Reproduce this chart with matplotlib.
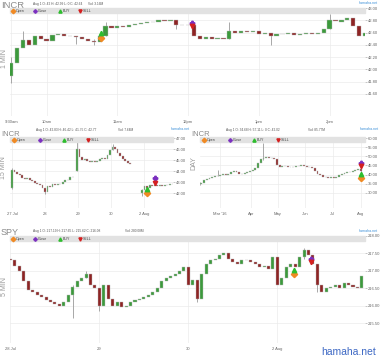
import numpy as np
import matplotlib.pyplot as plt
from matplotlib.lines import Line2D
from matplotlib.patches import Rectangle

plt.rcParams['font.family'] = ['Liberation Sans', 'DejaVu Sans']

# ---------------- data ----------------
# INCR 1 MIN, bars every 5 minutes from 9:30
incr1_open0 = 41.90
incr1_close = [42.10, 42.35, 42.48, 42.40, 42.55, 42.50, 42.47, 42.56, 42.58, 42.54,
               42.55, 42.52, 42.50, 42.47, 42.45, 42.55, 42.70, 42.68, 42.70, 42.69,
               42.73, 42.74, 42.76, 42.78, 42.77, 42.80, 42.79, 42.80, 42.72, 42.73,
               42.72, 42.55, 42.50, 42.52, 42.49, 42.51, 42.50, 42.62, 42.60, 42.62,
               42.61, 42.62, 42.58, 42.60, 42.55, 42.58, 42.57, 42.59, 42.56, 42.58,
               42.59, 42.57, 42.60, 42.66, 42.80, 42.78, 42.80, 42.83, 42.70, 42.55,
               42.60]
incr1_spikes = [(0, 42.20, 41.78), (10, 42.62, 42.40), (55, 42.55, 42.42), (70, 42.50, 42.40),
                (80, 42.78, 42.55), (140, 42.80, 42.65), (185, 42.78, 42.50), (220, 42.60, 42.40),
                (270, 42.90, 42.66)]
incr1_marks_x = [76, 76, 153, 153]
incr1_marks_y = [42.51, 42.59, 42.76, 42.71]  # open, buy, close, sell

# INCR 15 MIN, three runs of bars (day units)
incr15_starts = [0.0, 1.97, 3.94]
incr15_open0 = [42.50, 44.00, 42.00]
incr15_close = [
    [44.10, 43.90, 43.70, 43.60, 43.40, 43.30, 43.35, 43.20, 43.10, 42.95, 42.85, 42.70, 42.50,
     42.10, 42.60, 42.55, 42.80, 42.75, 42.85, 42.80, 43.00, 43.15, 43.20, 43.45, 43.50],
    [46.00, 45.30, 45.00, 45.10, 44.90, 44.80, 44.90, 44.80, 44.90, 45.10, 45.20, 45.10, 45.50,
     45.90, 46.20, 46.00, 45.60, 45.40, 45.10, 44.90, 44.70, 44.60],
    [42.30, 42.60, 42.50, 42.70, 42.60, 42.75, 42.60, 42.70, 42.65, 42.75, 42.70, 42.80, 42.85],
]
incr15_spikes = [(0.0, 44.30, 42.40), (1.0, 42.30, 41.95), (1.97, 46.60, 44.00),
                 (3.047, 46.42, 45.90), (3.94, 42.40, 41.75)]
incr15_marks_x = [4.09, 4.09, 4.33, 4.33]
incr15_marks_y = [42.00, 42.40, 43.35, 42.95]

# INCR DAY, one bar every two trading days
incrd_open0 = 34.80
incrd_close = [35.5, 37.0, 37.8, 38.2, 38.8, 39.5, 39.2, 40.0, 40.5, 39.8,
               40.6, 41.6, 42.0, 41.2, 40.6, 40.5, 40.8, 41.2, 41.8, 42.3,
               43.8, 46.5, 48.5, 49.0, 49.6, 49.2, 49.0, 48.5, 45.0, 44.2,
               44.8, 44.5, 44.4, 44.0, 44.3, 44.6, 44.8, 45.0, 44.6, 44.0,
               44.2, 43.8, 42.0, 40.5, 39.6, 38.6, 38.8, 38.2, 38.6, 38.4,
               38.9, 39.8, 40.3, 40.8, 41.2, 41.6, 42.0, 42.4, 43.2, 42.0]
incrd_spikes = [(0, 35.8, 34.2), (13, 42.5, 39.0), (47, 57.11, 48.0), (119, 44.0, 41.5)]
incrd_marks_x = [119.3, 119.3, 119.3, 119.3]
incrd_marks_y = [38.2, 40.4, 46.4, 44.7]

# SPY 5 MIN, 20 bars per day
spy_open0 = 217.35
spy_close = [217.30, 217.15, 217.00, 216.70, 216.45, 216.40, 216.30, 216.25, 216.15, 216.10,
             216.05, 216.00, 216.10, 216.30, 216.55, 216.70, 216.80, 216.90, 216.60, 216.50,
             216.00, 216.60, 216.20, 216.00, 216.10, 215.95, 216.00, 216.10, 216.15, 216.20,
             216.25, 216.30, 216.40, 216.50, 216.70, 216.80, 216.85, 216.90, 217.00, 217.10,
             216.60, 216.75, 216.20, 216.90, 217.20, 217.30, 217.35, 217.45, 217.50, 217.35,
             217.25, 217.20, 217.30, 217.30, 217.25, 217.20, 217.10, 217.15, 217.05, 217.40,
             216.60, 216.80, 217.10, 217.20, 217.10, 217.40, 217.60, 217.45, 217.20, 216.60,
             216.40, 216.50, 216.55, 216.60, 216.50, 216.65, 216.60, 216.55, 216.50, 216.85]
spy_spikes = [(0.70, 216.60, 215.64), (0.85, 217.00, 216.80), (1.00, 216.50, 215.85),
              (2.10, 216.75, 216.10), (3.30, 217.65, 217.35), (3.45, 217.20, 216.40)]
spy_marks_x = [3.19, 3.19, 3.38, 3.38]
spy_marks_y = [216.90, 217.03, 217.35, 217.25]

legend_labels = ['Open', 'Close', 'BUY', 'SELL']
mark_styles = [('D', '#f08a24'), ('P', '#7b2fbf'), ('^', '#2ebd2e'), ('v', '#d42020')]
mark_order = [0, 2, 1, 3]  # open, buy, close, sell

UP, DOWN = '#3c9a3c', '#8e2424'
W, H = 380, 358

fig = plt.figure(figsize=(W / 100, H / 100), dpi=100)


def fx(x):
    return x / W


def fy(y):
    return 1 - y / H


def panel(x0, y0, x1, y1):
    return fig.add_axes([fx(x0), fy(y1), (x1 - x0) / W, (y1 - y0) / H])


def candles(ax, xs, closes, open0, width):
    closes = np.array(closes)
    opens = np.concatenate([[open0], closes[:-1]])
    h = closes - opens
    h = np.where(np.abs(h) < 1e-9, 0.004 * (ax.get_ylim()[1] - ax.get_ylim()[0]), h)
    cols = np.where(closes >= opens, UP, DOWN)
    ax.bar(xs, h, bottom=opens, width=width, color=cols, edgecolor='#b8b8b8',
           linewidth=0.3, zorder=3)


def spikes(ax, sp):
    for x, hi, lo in sp:
        ax.vlines(x, lo, hi, color='#9a9a9a', linewidth=0.6, zorder=2)


def marks(ax, xs, ys):
    for k, x, y in zip(mark_order, xs, ys):
        m, c = mark_styles[k]
        ax.plot(x, y, marker=m, color=c, markersize=3.2, linestyle='none', zorder=6)


def style(ax, yticks, xticks, xlabels, yfmt='{:.2f}'):
    for s in ax.spines.values():
        s.set_visible(False)
    ax.set_facecolor('none')
    ax.yaxis.tick_right()
    ax.set_yticks(yticks)
    ax.set_yticklabels([yfmt.format(v) for v in yticks])
    ax.set_xticks(xticks)
    ax.set_xticklabels(xlabels)
    ax.tick_params(axis='y', labelsize=3.0, length=1.2, width=0.4, color='#999999',
                   labelcolor='#666666', pad=0.8)
    ax.tick_params(axis='x', labelsize=3.0, length=0, labelcolor='#666666', pad=3)
    ax.grid(True, color='#ebebeb', linewidth=0.5)
    ax.set_axisbelow(True)


def header(title, tsize, tx, ty, info, ix, vol, vx, iy, x0, x1, by, lx, hx, hy, side, sx, sy):
    fig.text(fx(tx), fy(ty), title, fontsize=tsize, color='#8a8a8a', va='baseline')
    fig.text(fx(ix), fy(iy), info, fontsize=2.3, color='#555555', va='center')
    fig.text(fx(vx), fy(iy), vol, fontsize=2.3, color='#555555', va='center')
    fig.text(fx(hx), fy(hy), 'hamaha.net', fontsize=2.6, color='#3a8fd8', va='center', ha='right')
    fig.text(fx(sx), fy(sy), side, fontsize=5, color='#9a9a9a', va='center', ha='center',
             rotation=90)
    fig.add_artist(Rectangle((fx(x0), fy(by + 5)), (x1 - x0) / W, 5 / H,
                             transform=fig.transFigure, color='#e2e2e2', zorder=5))
    for x, lab, (m, c) in zip(lx, legend_labels, mark_styles):
        fig.add_artist(Line2D([fx(x)], [fy(by + 2.5)], marker=m, color=c, markersize=2.3,
                              linestyle='none', transform=fig.transFigure, zorder=6))
        fig.text(fx(x + 3), fy(by + 2.6), lab, fontsize=2.6, color='#444444', va='center',
                 zorder=6)


# ---- INCR 1 MIN ----
ax1 = panel(10, 8, 365, 116)
ax1.set_xlim(-1, 300)
ax1.set_ylim(41.24, 43.0)
t1 = np.arange(len(incr1_close)) * 5
candles(ax1, t1, incr1_close, incr1_open0, 3.6)
spikes(ax1, incr1_spikes)
marks(ax1, incr1_marks_x, incr1_marks_y)
style(ax1, [41.6, 41.8, 42.0, 42.2, 42.4, 42.6, 42.8, 43.0], [0, 30, 90, 150, 210, 270],
      ['9:30am', '10am', '11am', '12pm', '1pm', '2pm'])
header('INCR', 6.8, 1, 7.6, 'Aug 1 O: 42 H: 42.99 L: 0 C: 42.64', 33, 'Vol: 3.16M', 88, 4,
       10, 365, 8, [13, 35, 60, 80], 378, 3, '1 MIN', 4, 58)

# ---- INCR 15 MIN ----
ax2 = panel(10, 138, 173, 208)
ax2.set_xlim(-0.06, 4.88)
ax2.set_ylim(40.64, 47.0)
for start, op, cl in zip(incr15_starts, incr15_open0, incr15_close):
    candles(ax2, start + np.arange(len(cl)) / 13, cl, op, 0.055)
spikes(ax2, incr15_spikes)
marks(ax2, incr15_marks_x, incr15_marks_y)
style(ax2, [42, 43, 44, 45, 46, 47], [0, 1, 2, 3, 4], ['27 Jul', '28', '29', '30', '2 Aug'])
header('INCR', 5.5, 1, 135.8, 'Aug 1 O: 42.83 H: 46.42 L: 41.75 C: 42.77', 36, 'Vol: 7.64M', 118,
       130, 10, 173, 137, [14, 40, 64, 88], 190, 129, '15 MIN', 4, 168)

# ---- INCR DAY ----
ax3 = panel(200, 138, 365, 208)
ax3.set_xlim(0, 122.2)
ax3.set_ylim(21.8, 60)
candles(ax3, np.arange(len(incrd_close)) * 2 + 1, incrd_close, incrd_open0, 1.4)
spikes(ax3, incrd_spikes)
marks(ax3, incrd_marks_x, incrd_marks_y)
style(ax3, [30, 35, 40, 45, 50, 55, 60], [14.8, 37.8, 57.8, 77.8, 98.5, 119.3],
      ["Mar '16", 'Apr', 'May', 'Jun', 'Jul', 'Aug'])
header('INCR', 5.5, 191, 135.8, 'Aug 1 O: 34.68 H: 57.11 L: 0 C: 42.02', 226, 'Vol: 85.77M', 308,
       130, 200, 365, 137, [204, 230, 254, 278], 379, 129, 'DAY', 194, 163)

# ---- SPY 5 MIN ----
ax4 = panel(10, 236, 365, 343)
ax4.set_xlim(-0.005, 3.985)
ax4.set_ylim(214.93, 218.0)
candles(ax4, np.arange(len(spy_close)) / 20, spy_close, spy_open0, 0.034)
spikes(ax4, spy_spikes)
marks(ax4, spy_marks_x, spy_marks_y)
style(ax4, [215.5, 216.0, 216.5, 217.0, 217.5, 218.0], [0, 1, 2, 3],
      ['28 Jul', '29', '30', '2 Aug'])
header('SPY', 6.5, 1, 234.8, 'Aug 1 O: 217.19 H: 217.65 L: 215.62 C: 216.08', 33,
       'Vol: 280.08M', 125, 231, 10, 365, 236, [13, 35, 60, 80], 378, 231.5, '5 MIN', 4, 287)

fig.text(fx(376), fy(352), 'hamaha.net', fontsize=7.5, color='#3d68c4', ha='right', va='center')

fig.savefig('out.png', dpi=100)
